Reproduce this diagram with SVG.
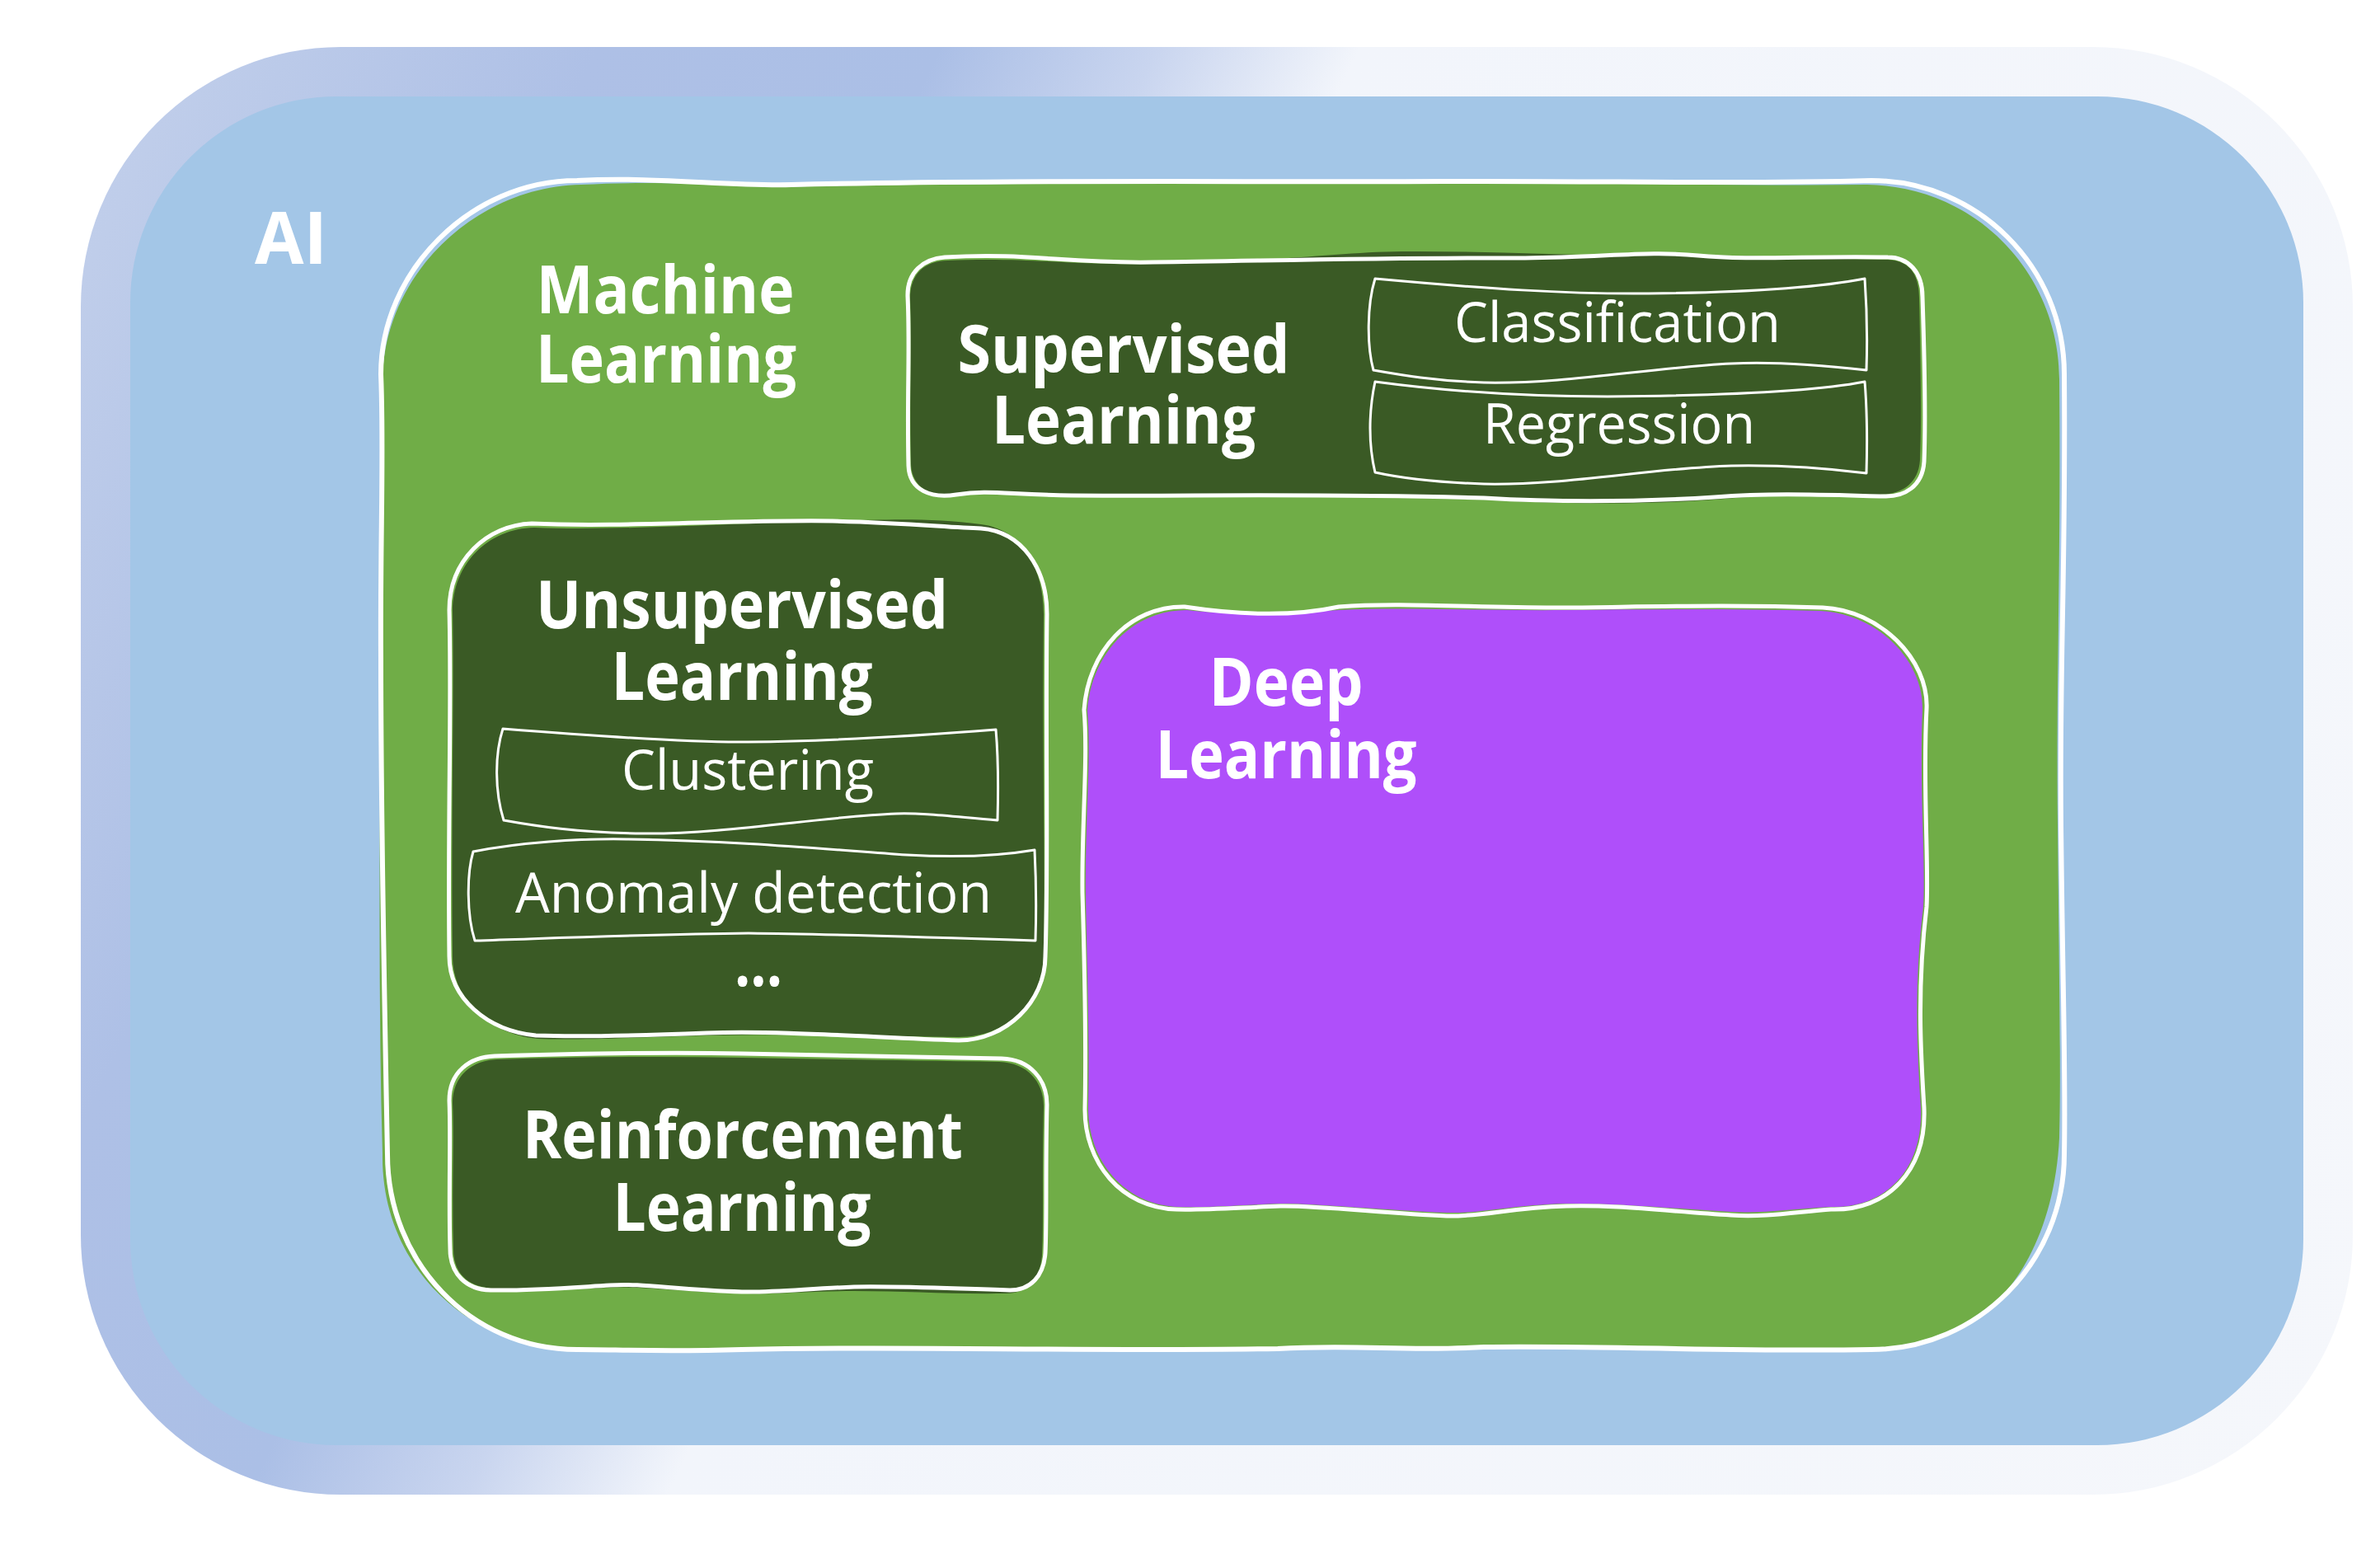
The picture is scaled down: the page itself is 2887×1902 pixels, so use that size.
<svg xmlns="http://www.w3.org/2000/svg" width="2887" height="1902" viewBox="0 0 2887 1902">
<defs>
<linearGradient id="frameGrad" gradientUnits="userSpaceOnUse" x1="0" y1="0" x2="3067" y2="1467">
<stop offset="0" stop-color="#C4D1EC"/>
<stop offset="0.07" stop-color="#BFCDEA"/>
<stop offset="0.2" stop-color="#AEC0E6"/>
<stop offset="0.31" stop-color="#ABBFE6"/>
<stop offset="0.38" stop-color="#C9D5EF"/>
<stop offset="0.445" stop-color="#F2F5FB"/>
<stop offset="1" stop-color="#F5F7FB"/>
</linearGradient>
<style>
.sk{fill:none;stroke:#FFFFFF;stroke-width:6;stroke-linecap:round;stroke-linejoin:round}
.sk5{fill:none;stroke:#FFFFFF;stroke-width:5;stroke-linecap:round;stroke-linejoin:round}
.sk2{fill:none;stroke:#FFFFFF;stroke-width:3;stroke-linejoin:round}
.green{fill:#70AD47}
.dark{fill:#3A5A25}
.purple{fill:#AF4FFA}
.b{font-family:"Open Sans","Noto Sans",sans-serif;font-weight:700;fill:#FFFFFF;text-anchor:middle;font-size:80px}
.r{font-family:"Open Sans","Noto Sans",sans-serif;font-weight:400;fill:#FFFFFF;text-anchor:middle;font-size:68px}
</style>
</defs>
<rect width="2887" height="1902" fill="#FFFFFF"/>

<g id="ai">
<path d="M413,57 H2539 A315,315 0 0 1 2854,372 V1498 A315,315 0 0 1 2539,1813 H413 A315,315 0 0 1 98,1498 V372 A315,315 0 0 1 413,57 Z" fill="url(#frameGrad)"/>
<path d="M408,117 H2544 A250,250 0 0 1 2794,367 V1503 A250,250 0 0 1 2544,1753 H408 A250,250 0 0 1 158,1503 V367 A250,250 0 0 1 408,117 Z" fill="#A3C6E7"/>
<text class="b" x="309" y="320" style="text-anchor:start;font-size:88px" textLength="88" lengthAdjust="spacingAndGlyphs">AI</text>
</g>

<g id="ml">
<path class="green" d="M705,224 C820,218 900,228 980,226 C1220,221 1520,224 1760,222 C1960,221 2110,226 2265,224 C2400,226 2498,335 2498,460 C2500,700 2494,820 2496,1000 C2498,1200 2500,1300 2498,1380 C2490,1540 2400,1636 2290,1635 C2100,1638 1950,1631 1800,1633 C1700,1638 1650,1629 1550,1634 C1300,1638 1100,1634 900,1639 C800,1641 740,1640 690,1638 C560,1630 462,1530 464,1400 C458,1200 462,1000 460,800 C459,650 462,550 464,460 C466,330 580,226 705,224 Z"/>
<path class="sk" d="M700,219 C800,214 880,226 960,224 C1200,218 1500,221 1750,220 C1950,219 2100,224 2270,219 C2399,219 2504,324 2504,454 C2506,700 2498,800 2500,1000 C2502,1200 2506,1300 2504,1400 C2504,1530 2400,1637 2270,1637 C2100,1640 1950,1632 1800,1634 C1700,1640 1650,1630 1550,1636 C1300,1640 1100,1632 900,1637 C800,1640 750,1637 700,1637 C570,1637 470,1530 470,1400 C466,1200 462,1000 462,800 C461,650 466,550 462,454 C462,330 570,219 700,219 Z"/>
<text class="b" x="807" y="380" textLength="313" lengthAdjust="spacingAndGlyphs">Machine</text>
<text class="b" x="808" y="464" textLength="316" lengthAdjust="spacingAndGlyphs">Learning</text>
</g>

<g id="supervised">
<path class="dark" d="M1150,316 C1250,312 1300,322 1400,320 C1550,318 1620,306 1700,305 C1800,304 1900,311 2000,309 C2100,308 2200,314 2290,315 C2318,316 2328,335 2328,362 C2330,450 2331,510 2329,558 C2327,588 2305,600 2280,600 C2200,600 2150,600 2080,606 C2000,612 1900,612 1800,606 C1600,600 1450,603 1300,602 C1220,600 1200,596 1160,601 C1132,604 1106,593 1105,563 C1103,480 1106,420 1104,362 C1104,332 1122,316 1150,316 Z"/>
<path class="sk5" d="M1146,312 C1250,306 1290,320 1400,318 C1550,316 1700,312 1850,313 C1950,312 2000,304 2060,310 C2120,316 2200,310 2290,312 C2315,312 2332,330 2332,360 C2335,450 2336,510 2334,560 C2332,590 2310,603 2285,602 C2200,600 2150,598 2080,603 C2000,608 1900,610 1800,604 C1600,598 1450,602 1300,601 C1220,600 1200,594 1160,600 C1130,605 1103,595 1102,565 C1100,480 1104,420 1101,360 C1100,330 1120,314 1146,312 Z"/>
<text class="b" x="1363" y="452" textLength="403" lengthAdjust="spacingAndGlyphs">Supervised</text>
<text class="b" x="1363" y="538" textLength="320" lengthAdjust="spacingAndGlyphs">Learning</text>
</g>

<g id="classification">
<path class="sk2" d="M1668,338 C1800,350 1900,357 2000,356 C2100,355 2200,350 2262,338 C2265,380 2265,420 2264,449 C2220,444 2160,438 2100,441 C2000,446 1900,466 1800,464 C1740,462 1700,455 1666,449 C1658,420 1658,370 1668,338 Z"/>
<text class="r" x="1962" y="415" textLength="396" lengthAdjust="spacingAndGlyphs">Classification</text>
</g>

<g id="regression">
<path class="sk2" d="M1668,463 C1750,474 1850,481 1950,481 C2080,480 2200,475 2262,463 C2265,500 2265,540 2264,574 C2200,566 2150,564 2100,565 C2000,568 1900,589 1800,587 C1740,585 1700,580 1668,573 C1660,540 1660,500 1668,463 Z"/>
<text class="r" x="1964" y="538" textLength="330" lengthAdjust="spacingAndGlyphs">Regression</text>
</g>

<g id="unsupervised">
<path class="dark" d="M648,640 C750,644 900,634 1010,632 C1080,630 1130,628 1190,636 C1240,642 1266,690 1266,745 C1264,900 1268,1050 1266,1160 C1266,1215 1222,1258 1163,1258 C1050,1256 950,1254 857,1256 C780,1258 700,1262 652,1260 C592,1254 549,1212 549,1160 C547,1000 551,850 549,742 C549,684 592,641 648,640 Z"/>
<path class="sk5" d="M645,635 C750,640 900,630 1010,632 C1100,634 1150,640 1190,641 C1240,645 1270,690 1270,745 C1268,900 1272,1050 1268,1160 C1268,1215 1220,1262 1163,1262 C1050,1258 950,1250 857,1253 C780,1256 700,1258 650,1256 C590,1250 545,1210 545,1160 C543,1000 548,850 545,740 C545,680 590,637 645,635 Z"/>
<text class="b" x="900" y="762" textLength="500" lengthAdjust="spacingAndGlyphs">Unsupervised</text>
<text class="b" x="900" y="849" textLength="317" lengthAdjust="spacingAndGlyphs">Learning</text>
<text class="b" x="920" y="1196" textLength="58" lengthAdjust="spacingAndGlyphs">...</text>
</g>

<g id="clustering">
<path class="sk2" d="M610,884 C750,895 850,901 908,900 C1000,899 1120,892 1208,885 C1211,920 1211,960 1210,995 C1150,990 1120,986 1087,987 C1000,990 880,1012 780,1011 C700,1010 650,1002 611,995 C600,960 600,915 610,884 Z"/>
<text class="r" x="907" y="958" textLength="306" lengthAdjust="spacingAndGlyphs">Clustering</text>
</g>

<g id="anomaly">
<path class="sk2" d="M574,1033 C630,1022 700,1017 760,1018 C900,1020 1000,1030 1100,1037 C1170,1041 1220,1037 1255,1031 C1257,1070 1257,1110 1256,1141 C1100,1136 1000,1133 908,1132 C800,1133 700,1137 576,1141 C566,1110 566,1060 574,1033 Z"/>
<text class="r" x="914" y="1107" textLength="578" lengthAdjust="spacingAndGlyphs">Anomaly detection</text>
</g>

<g id="reinforcement">
<path class="dark" d="M603,1285 C700,1282 800,1281 900,1283 C1000,1285 1100,1286 1212,1288 C1246,1289 1266,1312 1266,1342 C1264,1420 1266,1480 1264,1522 C1262,1552 1246,1569 1220,1569 C1150,1570 1100,1566 1036,1566 C980,1566 940,1570 900,1569 C820,1566 780,1560 740,1562 C690,1564 640,1566 598,1563 C568,1561 550,1545 550,1515 C548,1450 551,1380 549,1338 C549,1305 573,1286 603,1285 Z"/>
<path class="sk5" d="M600,1281 C700,1278 800,1276 900,1278 C1000,1280 1100,1282 1215,1284 C1250,1285 1270,1310 1270,1340 C1268,1420 1270,1480 1268,1520 C1266,1548 1250,1565 1225,1565 C1150,1563 1100,1560 1036,1561 C980,1563 940,1568 900,1567 C820,1565 780,1556 740,1559 C690,1562 640,1566 595,1565 C565,1564 546,1545 546,1515 C544,1450 547,1380 545,1335 C545,1300 570,1282 600,1281 Z"/>
<text class="b" x="901" y="1405" textLength="534" lengthAdjust="spacingAndGlyphs">Reinforcement</text>
<text class="b" x="900" y="1493" textLength="313" lengthAdjust="spacingAndGlyphs">Learning</text>
</g>

<g id="deep">
<path class="purple" d="M1440,740 C1490,746 1560,744 1624,740 C1700,736 1800,741 1900,740 C2000,739 2100,738 2208,741 C2276,744 2334,800 2332,862 C2328,950 2336,1050 2333,1100 C2321,1200 2326,1280 2330,1344 C2333,1418 2288,1466 2220,1464 C2180,1466 2140,1472 2100,1470 C2030,1466 1960,1459 1900,1460 C1830,1462 1800,1472 1755,1471 C1680,1468 1600,1460 1553,1460 C1500,1462 1460,1465 1430,1464 C1364,1462 1320,1408 1320,1344 C1322,1250 1318,1150 1317,1083 C1316,1000 1324,920 1319,862 C1324,792 1374,740 1440,740 Z"/>
<path class="sk5" d="M1437,736 C1490,744 1560,750 1624,736 C1700,730 1800,738 1900,737 C2000,736 2100,733 2211,737 C2280,740 2340,800 2337,860 C2332,950 2340,1050 2337,1100 C2325,1200 2330,1280 2334,1344 C2337,1420 2290,1469 2221,1467 C2180,1470 2140,1477 2100,1474 C2030,1470 1960,1461 1900,1463 C1830,1465 1800,1476 1755,1475 C1680,1472 1600,1462 1553,1463 C1500,1465 1460,1468 1427,1467 C1360,1465 1315,1410 1316,1344 C1318,1250 1315,1150 1313,1083 C1312,1000 1320,920 1315,861 C1320,790 1370,735 1437,736 Z"/>
<text class="b" x="1560" y="856" textLength="187" lengthAdjust="spacingAndGlyphs">Deep</text>
<text class="b" x="1560" y="944" textLength="317" lengthAdjust="spacingAndGlyphs">Learning</text>
</g>

<g id="connectors"></g>
</svg>
